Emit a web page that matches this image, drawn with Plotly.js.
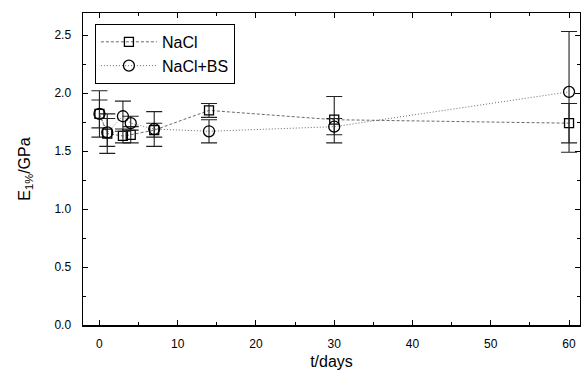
<!DOCTYPE html>
<html>
<head>
<meta charset="utf-8">
<script src="https://cdn.plot.ly/plotly-3.0.1.min.js"></script>
<style>html,body{margin:0;padding:0;background:#fff;}#chart{width:581px;height:375px;}</style>
</head>
<body>
<div id="chart"></div>
<script>
// Data
const days = [0, 1, 3, 4, 7, 14, 30, 60];
const naclE = [1.82, 1.65, 1.63, 1.64, 1.68, 1.85, 1.77, 1.74];
const naclErr = [0.20, 0.17, 0.06, 0.07, 0.06, 0.06, 0.20, 0.17];
const bsE = [1.82, 1.66, 1.80, 1.74, 1.69, 1.67, 1.71, 2.01];
const bsErr = [0.12, 0.12, 0.13, 0.06, 0.15, 0.10, 0.07, 0.52];
const xTicks = [0, 10, 20, 30, 40, 50, 60];
const yTicks = [0.0, 0.5, 1.0, 1.5, 2.0, 2.5];
const yTickText = ['0.0', '0.5', '1.0', '1.5', '2.0', '2.5'];

const FONT = 'Liberation Sans, Arial, sans-serif';
const traces = [
  {
    x: days, y: naclE, name: 'NaCl', type: 'scatter', mode: 'lines+markers',
    line: {color: '#444', width: 0.8, dash: '3px,2px'},
    marker: {symbol: 'square-open', size: 9, color: '#000', line: {width: 1.3, color: '#000'}},
    error_y: {type: 'data', array: naclErr, visible: true, color: '#222', thickness: 1.1, width: 8}
  },
  {
    x: days, y: bsE, name: 'NaCl+BS', type: 'scatter', mode: 'lines+markers',
    line: {color: '#444', width: 0.8, dash: '1px,2px'},
    marker: {symbol: 'circle-open', size: 11, color: '#000', line: {width: 1.3, color: '#000'}},
    error_y: {type: 'data', array: bsErr, visible: true, color: '#222', thickness: 1.1, width: 8}
  }
];

const axFont = {family: FONT, size: 12, color: '#000'};
const layout = {
  width: 581, height: 375,
  margin: {l: 83, r: 1, t: 13, b: 50},
  paper_bgcolor: '#fff', plot_bgcolor: '#fff',
  showlegend: true,
  legend: {
    x: 0.024, y: 0.965, xanchor: 'left', yanchor: 'top',
    bordercolor: '#000', borderwidth: 1, bgcolor: '#fff',
    font: {family: FONT, size: 16, color: '#000'},
    itemwidth: 56, tracegroupgap: 0
  },
  xaxis: {
    range: [-2.1, 61.4], tickvals: xTicks, ticktext: xTicks.map(String),
    ticks: 'inside', ticklen: 5, tickwidth: 1, tickcolor: '#000',
    minor: {dtick: 5, ticks: 'inside', ticklen: 3, tickcolor: '#000'},
    showline: true, linecolor: '#000', linewidth: 1.5, mirror: 'ticks',
    showgrid: false, zeroline: false, tickfont: axFont, ticklabelstandoff: 7,
    title: {text: 't/days', font: {family: FONT, size: 16, color: '#000'}, standoff: 6}
  },
  yaxis: {
    range: [0, 2.69], tickvals: yTicks, ticktext: yTickText,
    ticks: 'inside', ticklen: 5, tickwidth: 1, tickcolor: '#000',
    minor: {dtick: 0.25, ticks: 'inside', ticklen: 3, tickcolor: '#000'},
    showline: true, linecolor: '#000', linewidth: 1.5, mirror: 'ticks',
    showgrid: false, zeroline: false, tickfont: axFont, ticklabelstandoff: 8,
    title: {text: 'E<sub>1%</sub>/GPa', font: {family: FONT, size: 16, color: '#000'}, standoff: 20}
  }
};

Plotly.newPlot('chart', traces, layout, {displayModeBar: false, staticPlot: true});
</script>
</body>
</html>
